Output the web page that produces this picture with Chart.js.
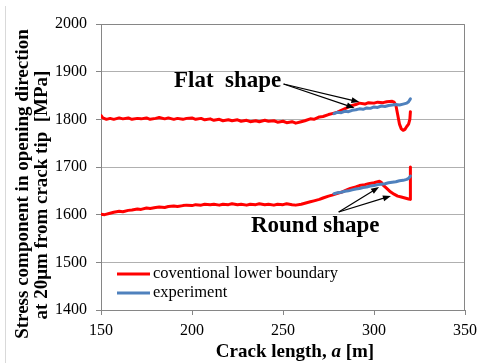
<!DOCTYPE html>
<html>
<head>
<meta charset="utf-8">
<script src="https://cdn.jsdelivr.net/npm/chart.js@4.4.0/dist/chart.umd.min.js"></script>
<style>
  html, body { margin: 0; padding: 0; background: #fff; }
  #wrap { width: 483px; height: 363px; position: relative; }
</style>
</head>
<body>
<div id="wrap"><canvas id="stressChart" width="483" height="363"></canvas></div>
<script>
// Crack length a (x) and stress (MPa) for each curve
const flatRedX = [150, 151, 153, 155, 157, 160, 162, 165, 167, 170, 172, 175, 177, 180, 182, 185, 187, 190, 192, 195,
  197, 200, 202, 205, 207, 210, 212, 215, 217, 220, 222, 225, 227, 230, 232, 235, 237, 240, 242, 245,
  247, 250, 252, 255, 257, 260, 262, 265, 267, 270, 272, 275, 277, 280, 282, 285, 287, 290, 292, 295,
  297, 300, 302, 305, 307, 310, 311, 312, 313, 314, 315, 316, 317, 318, 319, 319.7, 320];
const flatRedY = [1808, 1803, 1800, 1802, 1800, 1803, 1801, 1803, 1800, 1802, 1801, 1803, 1800, 1802, 1804, 1801, 1803, 1800, 1802, 1800,
  1802, 1803, 1800, 1802, 1799, 1801, 1798, 1800, 1797, 1799, 1797, 1799, 1796, 1798, 1795, 1797, 1795, 1798, 1796, 1797,
  1794, 1796, 1793, 1795, 1792, 1795, 1797, 1801, 1800, 1805, 1806, 1810, 1812, 1815, 1819, 1824, 1828, 1831, 1834, 1832,
  1835, 1834, 1836, 1835, 1837, 1838, 1836, 1830, 1810, 1790, 1780, 1777, 1779, 1785, 1790, 1800, 1816];

const flatBlueX = [278, 280, 282, 284, 286, 288, 290, 292, 294, 296, 298, 300, 302, 304, 306, 308, 310, 312, 314, 316, 318, 319, 320];
const flatBlueY = [1812, 1815, 1814, 1817, 1816, 1819, 1820, 1822, 1821, 1824, 1823, 1826, 1825, 1828, 1827, 1829, 1830, 1831, 1830, 1832, 1834, 1837, 1843];

const roundRedX = [150, 152, 155, 157, 160, 162, 165, 167, 170, 172, 175, 177, 180, 182, 185, 187, 190, 192, 195, 197,
  200, 202, 205, 207, 210, 212, 215, 217, 220, 222, 225, 227, 230, 232, 235, 237, 240, 242, 245, 247,
  250, 252, 255, 257, 260, 262, 265, 267, 270, 272, 275, 277, 280, 282, 285, 287, 290, 292, 295, 297,
  300, 302, 303, 304, 305, 307, 309, 311, 313, 315, 317, 319, 320, 320];
const roundRedY = [1601, 1600, 1603, 1605, 1607, 1606, 1609, 1610, 1612, 1611, 1614, 1613, 1615, 1616, 1615, 1617, 1618, 1617, 1619, 1620,
  1619, 1621, 1620, 1622, 1621, 1622, 1620, 1622, 1621, 1623, 1621, 1622, 1620, 1622, 1621, 1623, 1621, 1622, 1620, 1622,
  1621, 1623, 1621, 1620, 1622, 1624, 1627, 1629, 1632, 1635, 1639, 1641, 1645, 1647, 1652, 1655, 1658, 1661, 1663, 1665,
  1667, 1669, 1670, 1668, 1662, 1655, 1648, 1643, 1639, 1637, 1635, 1633, 1632, 1700];

const roundBlueX = [278, 280, 282, 284, 286, 288, 290, 292, 294, 296, 298, 300, 302, 304, 306, 308, 310, 312, 314, 316, 318, 319, 320];
const roundBlueY = [1644, 1646, 1647, 1649, 1650, 1652, 1654, 1655, 1657, 1658, 1660, 1661, 1663, 1664, 1665, 1667, 1668, 1669, 1671, 1672, 1674, 1676, 1681];

const xTicks = [150, 200, 250, 300, 350];
const yTicks = [1400, 1500, 1600, 1700, 1800, 1900, 2000];
const legendNames = ["coventional lower boundary", "experiment"];

const RED = "#FF0000";
const BLUE = "#4F81BD";
const SERIF = "'Liberation Serif', 'Times New Roman', serif";

function pts(xs, ys) {
  return xs.map((x, i) => ({ x: x, y: ys[i] }));
}

// annotations, legend and axis titles drawn on top of the plot
const extrasPlugin = {
  id: "extras",
  afterDraw(chart) {
    const ctx = chart.ctx;
    const xs = chart.scales.x;
    const ys = chart.scales.y;
    const a = chart.chartArea;
    const X = v => xs.getPixelForValue(v);
    const Y = v => ys.getPixelForValue(v);
    ctx.save();

    // outer frame line at left
    ctx.strokeStyle = "#d9d9d9";
    ctx.lineWidth = 1;
    ctx.beginPath();
    ctx.moveTo(5.5, 6);
    ctx.lineTo(5.5, 363);
    ctx.stroke();

    // top & right border of plot area
    ctx.strokeStyle = "#868686";
    ctx.beginPath();
    ctx.moveTo(a.left, a.top + 0.5);
    ctx.lineTo(a.right - 0.5, a.top + 0.5);
    ctx.lineTo(a.right - 0.5, a.bottom);
    ctx.stroke();

    // shape labels
    ctx.fillStyle = "#000";
    ctx.font = "bold 23px " + SERIF;
    ctx.textAlign = "left";
    ctx.textBaseline = "alphabetic";
    ctx.fillText("Flat  shape", X(190.1), Y(1867.8));
    ctx.fillText("Round shape", X(232.4), Y(1563.7));

    function arrow(x0, y0, x1, y1) {
      const px0 = X(x0), py0 = Y(y0), px1 = X(x1), py1 = Y(y1);
      const ang = Math.atan2(py1 - py0, px1 - px0);
      ctx.strokeStyle = "#000";
      ctx.lineWidth = 1.2;
      ctx.beginPath();
      ctx.moveTo(px0, py0);
      ctx.lineTo(px1 - 5 * Math.cos(ang), py1 - 5 * Math.sin(ang));
      ctx.stroke();
      ctx.beginPath();
      ctx.moveTo(px1, py1);
      ctx.lineTo(px1 - 8 * Math.cos(ang) + 3 * Math.sin(ang), py1 - 8 * Math.sin(ang) - 3 * Math.cos(ang));
      ctx.lineTo(px1 - 8 * Math.cos(ang) - 3 * Math.sin(ang), py1 - 8 * Math.sin(ang) + 3 * Math.cos(ang));
      ctx.closePath();
      ctx.fill();
    }
    arrow(250.3, 1874.1, 292.0, 1836.4);
    arrow(250.3, 1874.1, 289.3, 1823.8);
    arrow(280.6, 1605.6, 302.8, 1658.0);
    arrow(280.6, 1605.6, 309.3, 1639.2);

    // legend
    const cols = [RED, BLUE];
    ctx.font = "16.5px " + SERIF;
    ctx.textBaseline = "middle";
    legendNames.forEach((name, i) => {
      const ly = 274 + i * 19;
      ctx.strokeStyle = cols[i];
      ctx.lineWidth = 3;
      ctx.beginPath();
      ctx.moveTo(117, ly);
      ctx.lineTo(150, ly);
      ctx.stroke();
      ctx.fillStyle = "#000";
      ctx.fillText(name, 153, ly);
    });

    // x axis title, italic a
    const bold = "bold 19px " + SERIF;
    const parts = [["Crack length, ", bold], ["a", "bold italic 19px " + SERIF], [" [m]", bold]];
    ctx.textBaseline = "alphabetic";
    ctx.textAlign = "left";
    let total = 0;
    parts.forEach(p => { ctx.font = p[1]; total += ctx.measureText(p[0]).width; });
    let tx = 295 - total / 2;
    parts.forEach(p => {
      ctx.font = p[1];
      ctx.fillText(p[0], tx, 357);
      tx += ctx.measureText(p[0]).width;
    });

    // y axis title, two lines
    ctx.font = bold;
    ctx.textAlign = "center";
    ctx.textBaseline = "middle";
    ctx.save();
    ctx.translate(23, 184);
    ctx.rotate(-Math.PI / 2);
    ctx.fillText("Stress component in opening direction", 0, 0);
    ctx.restore();
    ctx.save();
    ctx.translate(42, 195);
    ctx.rotate(-Math.PI / 2);
    ctx.fillText("at 20\u03bcm from crack tip  [MPa]", 0, 0);
    ctx.restore();

    ctx.restore();
  }
};

const ctx = document.getElementById("stressChart").getContext("2d");
new Chart(ctx, {
  type: "line",
  data: {
    datasets: [
      { label: legendNames[0], data: pts(flatRedX, flatRedY), borderColor: RED, order: 2 },
      { label: legendNames[1], data: pts(flatBlueX, flatBlueY), borderColor: BLUE, order: 1 },
      { label: legendNames[0], data: pts(roundRedX, roundRedY), borderColor: RED, order: 2 },
      { label: legendNames[1], data: pts(roundBlueX, roundBlueY), borderColor: BLUE, order: 1 }
    ]
  },
  options: {
    responsive: false,
    animation: false,
    events: [],
    datasets: {
      line: { borderWidth: 3, pointRadius: 0, tension: 0, fill: false, borderJoinStyle: "round", borderCapStyle: "round" }
    },
    layout: { padding: { left: 0, right: 13, top: 24, bottom: 0 } },
    plugins: {
      legend: { display: false },
      tooltip: { enabled: false }
    },
    scales: {
      x: {
        type: "linear",
        min: 150,
        max: 350,
        afterFit: s => { s.height = 53; },
        afterBuildTicks: s => { s.ticks = xTicks.map(v => ({ value: v })); },
        border: { color: "#868686", width: 1 },
        grid: { drawOnChartArea: false, drawTicks: true, tickLength: 5, tickColor: "#868686" },
        ticks: { color: "#000", font: { family: SERIF, size: 16 }, padding: 6, maxRotation: 0, callback: v => String(v) }
      },
      y: {
        min: 1400,
        max: 2000,
        afterFit: s => { s.width = 101; },
        afterBuildTicks: s => { s.ticks = yTicks.map(v => ({ value: v })); },
        border: { color: "#868686", width: 1 },
        grid: { color: "#b0b0b0", borderDash: [2, 2], tickLength: 5, tickColor: "#868686", tickBorderDash: [] },
        ticks: { color: "#000", font: { family: SERIF, size: 16 }, padding: 9, callback: v => String(v) }
      }
    }
  },
  plugins: [extrasPlugin]
});
</script>
</body>
</html>
